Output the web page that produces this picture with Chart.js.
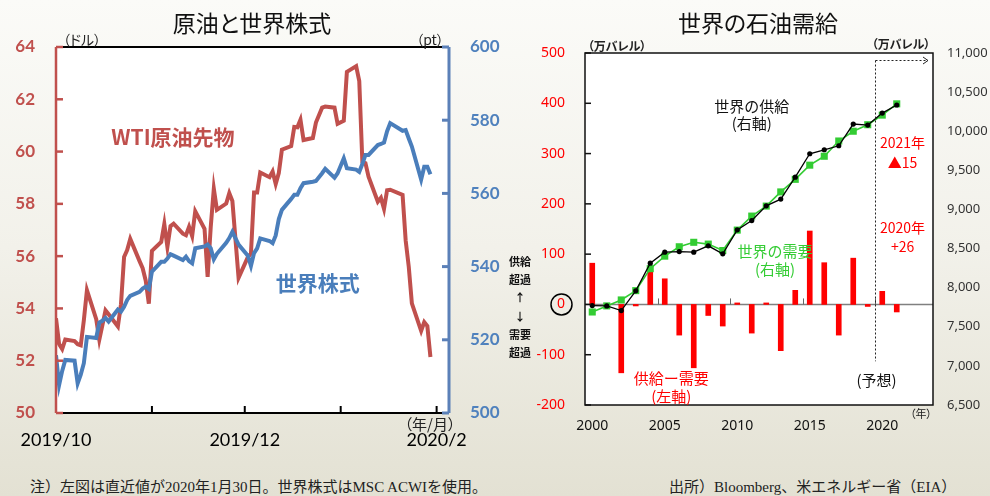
<!DOCTYPE html>
<html lang="ja">
<head>
<meta charset="utf-8">
<script src="https://cdn.jsdelivr.net/npm/chart.js@4.4.0/dist/chart.umd.min.js"></script>
<style>
  html, body { margin: 0; padding: 0; }
  body {
    width: 990px; height: 496px; position: relative; overflow: hidden;
    background: linear-gradient(#fbfbf8 0%, #f2f1ea 50%, #e3e1d3 100%);
    font-family: "Noto Sans CJK JP", sans-serif;
  }
  canvas { position: absolute; top: 0; }
  #oil { left: 0; }
  #bal { left: 500px; }
  .lab {
    position: absolute; transform: translate(-50%, -50%); line-height: 1;
    white-space: nowrap; font-feature-settings: "palt"; color: #222;
  }
  .title { font-size: 23px; color: #111; }
  .side { font-size: 11px; font-weight: bold; color: #111; }
  .note {
    position: absolute; top: 480px; font-size: 15px; line-height: 1; white-space: nowrap;
    font-family: "Liberation Serif", "Noto Sans CJK JP", serif; color: #222;
  }
</style>
</head>
<body>
<canvas id="oil" width="500" height="460"></canvas>
<canvas id="bal" width="490" height="460"></canvas>

<div class="lab title" style="left:252px;top:22px">原油と世界株式</div>
<div class="lab title" style="left:758px;top:22px">世界の石油需給</div>

<div class="lab" style="left:82px;top:39px;font-size:14px">（ドル）</div>
<div class="lab" style="left:430px;top:39px;font-size:14px">（pt）</div>
<div class="lab" style="left:430px;top:423px;font-size:15px">（年/月）</div>

<div class="lab" style="left:617px;top:46px;font-size:12px;font-weight:bold">（万バレル）</div>
<div class="lab" style="left:901px;top:44px;font-size:12px;font-weight:bold">（万バレル）</div>
<div class="lab" style="left:921px;top:413px;font-size:11px">（年）</div>

<div class="lab side" style="left:520px;top:261px">供給</div>
<div class="lab side" style="left:520px;top:279px">超過</div>
<div class="lab side" style="left:520px;top:297px">↑</div>
<div class="lab side" style="left:520px;top:316px">↓</div>
<div class="lab side" style="left:520px;top:334px">需要</div>
<div class="lab side" style="left:520px;top:352px">超過</div>

<div class="note" style="left:30px">注）左図は直近値が2020年1月30日。世界株式はMSC ACWIを使用。</div>
<div class="note" style="left:669px">出所）Bloomberg、米エネルギー省（EIA）</div>

<script>
// 左図：日次データ（2019/10/1〜2020/1/30）
const dates = [
  '2019-10-01','2019-10-02','2019-10-03','2019-10-04','2019-10-07','2019-10-08','2019-10-09','2019-10-10','2019-10-11',
  '2019-10-14','2019-10-15','2019-10-16','2019-10-17','2019-10-18','2019-10-21','2019-10-22','2019-10-23','2019-10-24',
  '2019-10-25','2019-10-28','2019-10-29','2019-10-30','2019-10-31',
  '2019-11-01','2019-11-04','2019-11-05','2019-11-06','2019-11-07','2019-11-08','2019-11-11','2019-11-12','2019-11-13',
  '2019-11-14','2019-11-15','2019-11-18','2019-11-19','2019-11-20','2019-11-21','2019-11-22','2019-11-25','2019-11-26',
  '2019-11-27','2019-11-29',
  '2019-12-02','2019-12-03','2019-12-04','2019-12-05','2019-12-06','2019-12-09','2019-12-10','2019-12-11','2019-12-12',
  '2019-12-13','2019-12-16','2019-12-17','2019-12-18','2019-12-19','2019-12-20','2019-12-23','2019-12-24','2019-12-26',
  '2019-12-27','2019-12-30','2019-12-31',
  '2020-01-02','2020-01-03','2020-01-06','2020-01-07','2020-01-08','2020-01-09','2020-01-10','2020-01-13','2020-01-14',
  '2020-01-15','2020-01-16','2020-01-17','2020-01-21','2020-01-22','2020-01-23','2020-01-24','2020-01-27','2020-01-28',
  '2020-01-29','2020-01-30'
];
const wti = [
  53.62, 52.64, 52.45, 52.81, 52.75, 52.63, 52.59, 53.55, 54.70,
  53.59, 52.81, 53.36, 53.93, 53.78, 53.31, 54.16, 55.97, 56.23,
  56.66, 55.81, 55.54, 55.06, 54.18,
  56.20, 56.54, 57.23, 56.35, 57.15, 57.24, 56.86, 56.80, 57.12,
  56.77, 57.72, 57.05, 55.21, 57.11, 58.58, 57.77, 58.01, 58.41,
  58.11, 55.17,
  55.96, 56.10, 58.43, 58.43, 59.20, 59.02, 59.24, 58.76, 59.18,
  60.07, 60.21, 60.94, 60.93, 61.22, 60.44, 60.52, 61.11, 61.68,
  61.72, 61.68, 61.06,
  61.18, 63.05, 63.27, 62.70, 59.61, 59.56, 59.04, 58.08, 58.23,
  57.81, 58.52, 58.54, 58.34, 56.60, 55.59, 54.19, 53.14, 53.48,
  53.33, 52.14
];
const acwi = [
  515.8, 507.6, 511.5, 514.5, 514.3, 508.1, 510.5, 513.6, 520.8,
  520.5, 524.7, 525.2, 526.0, 525.0, 528.3, 527.7, 529.0, 530.9,
  532.0, 533.1, 534.0, 534.5, 533.9,
  538.6, 541.3, 541.3, 542.2, 543.4, 543.0, 541.8, 542.7, 541.5,
  540.9, 545.0, 545.5, 546.0, 545.0, 542.0, 543.5, 546.5, 547.8,
  549.5, 546.0,
  543.0, 540.2, 543.7, 545.0, 547.7, 547.0, 546.4, 548.5, 553.0,
  555.5, 558.5, 559.6, 559.6, 561.4, 562.8, 563.2, 563.4, 565.5,
  566.7, 564.3, 565.5,
  569.6, 566.9, 566.5, 565.9, 568.0, 570.5, 570.5, 573.2, 573.5,
  573.9, 577.0, 579.2, 577.1, 577.3, 575.0, 572.8, 563.8, 567.3,
  567.3, 565.2
];
const monthStarts = ['2019-10-01', '2019-11-01', '2019-12-01', '2020-01-01', '2020-02-01'];
const monthLabels = ['2019/10', '', '2019/12', '', '2020/2'];
const axisEnd = '2020-02-05';

// 右図：年次データ（万バレル/日）
const years = [2000, 2001, 2002, 2003, 2004, 2005, 2006, 2007, 2008, 2009, 2010, 2011,
               2012, 2013, 2014, 2015, 2016, 2017, 2018, 2019, 2020, 2021, 2022, 2023];
const supply = [7771, 7767, 7707, 7959, 8313, 8454, 8462, 8454, 8535, 8432, 8739, 8858,
                9046, 9132, 9413, 9712, 9763, 9814, 10092, 10079, 10232, 10335];
const demand = [7689, 7767, 7843, 7962, 8243, 8403, 8523, 8580, 8557, 8475, 8736, 8915,
                9043, 9224, 9385, 9566, 9680, 9875, 10000, 10083, 10206, 10350];
const balance = [82, 0, -136, -3, 70, 51, -61, -126, -22, -43, 3, -57,
                 3, -92, 28, 146, 83, -61, 92, -4, 26, -15];
const yearTicks = [2000, 2005, 2010, 2015, 2020];

const RED = '#c0504d', BLUE = '#4a7ebb';
const day0 = Date.parse(monthStarts[0]);
const toDay = s => (Date.parse(s) - day0) / 864e5;

function line(ctx, x1, y1, x2, y2) {
  ctx.beginPath(); ctx.moveTo(x1, y1); ctx.lineTo(x2, y2); ctx.stroke();
}
function text(ctx, s, x, y, font, color) {
  ctx.font = font; ctx.fillStyle = color;
  ctx.textAlign = 'center'; ctx.textBaseline = 'middle';
  ctx.fillText(s, x, y);
}

// 白い描画領域
const plotBg = {
  id: 'plotBg',
  beforeDraw(chart) {
    const a = chart.chartArea, ctx = chart.ctx;
    ctx.save(); ctx.fillStyle = '#fff';
    ctx.fillRect(a.left, a.top, a.right - a.left, a.bottom - a.top);
    ctx.restore();
  }
};

// 左図の枠・目盛り・注記
const oilFrame = {
  id: 'oilFrame',
  afterDraw(chart) {
    const { ctx, chartArea: a, scales: { x, yL, yR } } = chart;
    ctx.save();
    ctx.strokeStyle = '#000'; ctx.lineWidth = 2;
    line(ctx, a.left, a.top, a.right, a.top);
    line(ctx, a.left, a.bottom, a.right, a.bottom);
    x.ticks.forEach(t => { const px = x.getPixelForValue(t.value); line(ctx, px, a.bottom, px, a.bottom - 7); });
    ctx.strokeStyle = RED; ctx.lineWidth = 2.5;
    line(ctx, a.left, a.top, a.left, a.bottom);
    yL.ticks.forEach(t => { const py = yL.getPixelForValue(t.value); line(ctx, a.left, py, a.left + 7, py); });
    ctx.strokeStyle = '#5b80b8'; ctx.lineWidth = 3;
    line(ctx, a.right, a.top, a.right, a.bottom);
    yR.ticks.forEach(t => { const py = yR.getPixelForValue(t.value); line(ctx, a.right, py, a.right - 7, py); });

    text(ctx, 'WTI原油先物', x.getPixelForValue(37.8), yL.getPixelForValue(60.57),
         'bold 21px "Noto Sans CJK JP"', RED);
    text(ctx, '世界株式', x.getPixelForValue(84.6), yR.getPixelForValue(535.6),
         'bold 21px "Noto Sans CJK JP"', BLUE);
    ctx.restore();
  }
};

// 右図の枠・ゼロ線・予想区間・注記
const balFrame = {
  id: 'balFrame',
  beforeDatasetsDraw(chart) {
    const { ctx, chartArea: a, scales: { yL } } = chart;
    ctx.save();
    ctx.strokeStyle = '#808080'; ctx.lineWidth = 1.5;
    const y0 = yL.getPixelForValue(0);
    line(ctx, a.left, y0, a.right, y0);
    ctx.restore();
  },
  afterDraw(chart) {
    const { ctx, chartArea: a, scales: { x, yL } } = chart;
    ctx.save();
    const y0 = yL.getPixelForValue(0);
    ctx.strokeStyle = '#666'; ctx.lineWidth = 1;
    [4.5, 9.5, 14.5, 19.5].forEach(v => { const px = Math.round(x.getPixelForValue(v)) + 0.5; line(ctx, px, y0, px, y0 - 6); });

    ctx.strokeStyle = '#111'; ctx.lineWidth = 1.5;
    ctx.strokeRect(a.left, a.top, a.right - a.left, a.bottom - a.top);
    yL.ticks.forEach(t => { const py = yL.getPixelForValue(t.value); line(ctx, a.left, py, a.left + 6, py); });

    // 予想区間
    const fx = Math.round(x.getPixelForValue(19.5)) + 0.5;
    const ty = a.top + 7.5;
    ctx.strokeStyle = '#222'; ctx.lineWidth = 1; ctx.setLineDash([2, 2]);
    line(ctx, fx, ty, fx, yL.getPixelForValue(-113));
    line(ctx, fx, ty, a.right - 5, ty);
    ctx.setLineDash([]);
    line(ctx, a.right - 5, ty, a.right - 10, ty - 3.5);
    line(ctx, a.right - 5, ty, a.right - 10, ty + 3.5);

    // 0 を丸で囲む
    ctx.strokeStyle = '#000'; ctx.lineWidth = 1.5;
    ctx.beginPath(); ctx.arc(yL.right - 23.5, y0, 10.5, 0, Math.PI * 2); ctx.stroke();

    const f15 = '15px "Noto Sans CJK JP"', f14 = '14px "Noto Sans CJK JP"';
    const X = v => x.getPixelForValue(v), Y = v => yL.getPixelForValue(v);
    text(ctx, '世界の供給', X(11), Y(395), f15, '#111');
    text(ctx, '(右軸)', X(11), Y(361), f15, '#111');
    text(ctx, '世界の需要', X(12.6), Y(105), f15, '#33cc33');
    text(ctx, '(右軸)', X(12.6), Y(70), f15, '#33cc33');
    text(ctx, '供給ー需要', X(5.45), Y(-147), f15, '#ff0000');
    text(ctx, '(左軸)', X(5.45), Y(-182), f15, '#ff0000');
    text(ctx, '(予想)', X(19.6), Y(-150), f15, '#111');
    text(ctx, '2021年', X(21.4), Y(322), f14, '#ff0000');
    text(ctx, '▲15', X(21.4), Y(282), f14, '#ff0000');
    text(ctx, '2020年', X(21.4), Y(152), f14, '#ff0000');
    text(ctx, '+26', X(21.4), Y(115), f14, '#ff0000');
    ctx.restore();
  }
};

const noGrid = { display: false, drawTicks: false };

new Chart(document.getElementById('oil'), {
  type: 'line',
  data: {
    datasets: [
      { label: '世界株式', data: dates.map((d, i) => ({ x: toDay(d), y: acwi[i] })), yAxisID: 'yR',
        borderColor: BLUE, borderWidth: 4, pointRadius: 0, tension: 0, order: 0 },
      { label: 'WTI原油先物', data: dates.map((d, i) => ({ x: toDay(d), y: wti[i] })), yAxisID: 'yL',
        borderColor: RED, borderWidth: 4, pointRadius: 0, tension: 0, order: 1 }
    ]
  },
  options: {
    responsive: false, animation: false,
    layout: { padding: { top: 47, left: 0, right: 0, bottom: 0 } },
    plugins: { legend: { display: false }, tooltip: { enabled: false } },
    scales: {
      x: {
        type: 'linear', min: 0, max: toDay(axisEnd),
        afterBuildTicks: s => { s.ticks = monthStarts.map(m => ({ value: toDay(m) })); },
        ticks: { callback: (v, i) => monthLabels[i], font: { family: 'Lato', size: 18 }, color: '#000',
                 padding: 16, maxRotation: 0, autoSkip: false },
        grid: noGrid, border: { display: false },
        afterFit: s => { s.height = 47; }
      },
      yL: {
        position: 'left', min: 50, max: 64,
        ticks: { stepSize: 2, font: { family: 'Lato', size: 17, weight: 'bold' }, color: RED, padding: 21 },
        grid: noGrid, border: { display: false },
        afterFit: s => { s.width = 56; }
      },
      yR: {
        position: 'right', min: 500, max: 600,
        ticks: { stepSize: 20, font: { family: 'Lato', size: 17, weight: 'bold' }, color: '#4f81bd', padding: 21 },
        grid: noGrid, border: { display: false },
        afterFit: s => { s.width = 51; }
      }
    }
  },
  plugins: [plotBg, oilFrame]
});

new Chart(document.getElementById('bal'), {
  type: 'bar',
  data: {
    labels: years,
    datasets: [
      { type: 'line', label: '世界の供給', data: supply, yAxisID: 'yR', borderColor: '#000', borderWidth: 1.3,
        pointStyle: 'circle', pointRadius: 2.6, pointBackgroundColor: '#000', pointBorderWidth: 0, tension: 0, order: 0 },
      { type: 'line', label: '世界の需要', data: demand, yAxisID: 'yR', borderColor: '#33cc33', borderWidth: 1.6,
        pointStyle: 'rect', pointRadius: 5, pointBackgroundColor: '#33cc33', pointBorderWidth: 0, tension: 0, order: 1 },
      { type: 'bar', label: '供給ー需要', data: balance, yAxisID: 'yL', backgroundColor: '#ff0000',
        barThickness: 5, order: 2 }
    ]
  },
  options: {
    responsive: false, animation: false,
    layout: { padding: { top: 53, left: 0, right: 0, bottom: 0 } },
    plugins: { legend: { display: false }, tooltip: { enabled: false } },
    scales: {
      x: {
        type: 'category', offset: true,
        ticks: { autoSkip: false, maxRotation: 0, padding: 13, color: '#111',
                 font: { family: 'Noto Sans', size: 14 },
                 callback: (v, i) => yearTicks.includes(years[i]) ? String(years[i]) : '' },
        grid: noGrid, border: { display: false },
        afterFit: s => { s.height = 55; }
      },
      yL: {
        position: 'left', min: -200, max: 500,
        ticks: { stepSize: 100, color: '#ff0000', padding: 20, font: { family: 'Noto Sans', size: 14 } },
        grid: noGrid, border: { display: false },
        afterFit: s => { s.width = 85; }
      },
      yR: {
        position: 'right', min: 6500, max: 11000,
        ticks: { stepSize: 500, color: '#333', padding: 14, font: { family: 'Noto Sans', size: 13 },
                 callback: v => v.toLocaleString('en-US') },
        grid: noGrid, border: { display: false },
        afterFit: s => { s.width = 57; }
      }
    }
  },
  plugins: [plotBg, balFrame]
});
</script>
</body>
</html>
